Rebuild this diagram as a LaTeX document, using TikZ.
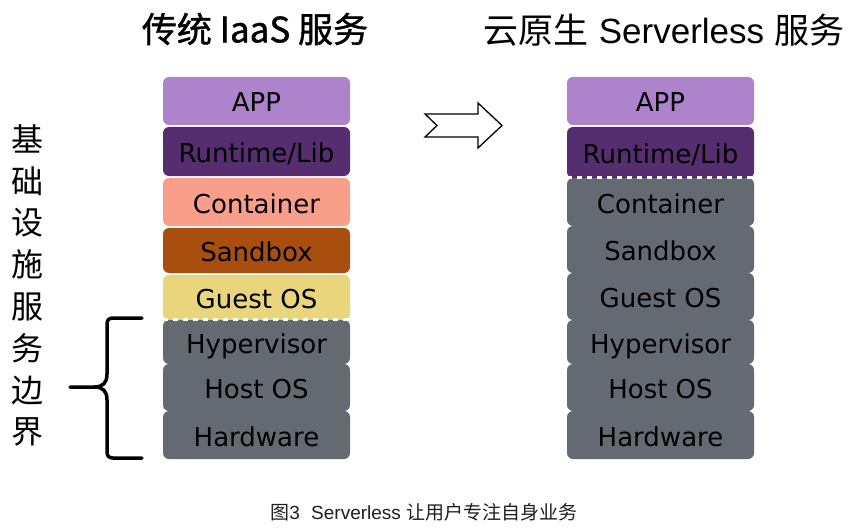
\documentclass[tikz,border=0pt]{standalone}
\usepackage{fontspec}
\newfontfamily\cjk{Noto Sans CJK SC}
\newfontfamily\cjkmed{Noto Sans CJK SC}[FakeBold=1.2]
\newfontfamily\dejavu{DejaVu Sans}
\newfontfamily\libsans{Liberation Sans}
\definecolor{cApp}{RGB}{173,131,203}
\definecolor{cRun}{RGB}{86,45,110}
\definecolor{cCont}{RGB}{249,158,137}
\definecolor{cSand}{RGB}{168,78,14}
\definecolor{cGuest}{RGB}{233,213,123}
\definecolor{cGray}{RGB}{100,106,114}
\definecolor{cCap}{RGB}{30,30,30}
\tikzset{
  layer/.style={minimum width=187pt, inner sep=0pt, rounded corners=6pt,
    font=\dejavu\fontsize{26}{26}\selectfont, text height=23pt, text depth=1pt, text=black},
  grayl/.style={layer, fill=cGray},
  dashsep/.style={draw=white, line width=2.8pt, dash pattern=on 5pt off 5pt},
  bracestyle/.style={line width=3.5pt, line cap=round, line join=round},
  vchar/.style={font=\cjk\fontsize{32}{32}\selectfont, inner sep=0pt},
}
\begin{document}
\begin{tikzpicture}[x=1pt,y=-1pt]
\useasboundingbox (0,0) rectangle (867,532);
% titles
\node[font=\cjkmed\fontsize{35}{35}\selectfont, inner sep=0pt] (tleft) at (255,29) {传统 IaaS 服务};
\node[font=\fontsize{35}{35}\selectfont, inner sep=0pt] (tright) at (664,30) {{\cjk 云原生} {\libsans Serverless} {\cjk 服务}};
% left stack
\node[layer, fill=cApp, minimum height=48pt] (lapp) at (256.5,101) {APP};
\node[layer, fill=cRun, minimum height=49pt] (lrun) at (256.5,151.5) {Runtime/Lib};
\node[layer, fill=cCont, minimum height=48pt] (lcont) at (256.5,202) {Container};
\node[layer, fill=cSand, minimum height=45pt] (lsand) at (256.5,250.5) {Sandbox};
\node[layer, fill=cGuest, minimum height=45pt] (lguest) at (256.5,297.5) {Guest OS};
\node[grayl, minimum height=44pt] (lhyp) at (256.5,342) {Hypervisor};
\node[grayl, minimum height=47pt] (lhost) at (256.5,387.5) {Host OS};
\node[grayl, minimum height=48pt] (lhw) at (256.5,435) {Hardware};
\draw[dashsep] (lhyp.north west) -- (lhyp.north east);
% right stack
\node[layer, fill=cApp, minimum height=48pt] (rapp) at (660.5,101) {APP};
\node[layer, fill=cRun, minimum height=51pt] (rrun) at (660.5,152.5) {Runtime/Lib};
\node[grayl, minimum height=48pt] (rcont) at (660.5,202) {Container};
\node[grayl, minimum height=47pt] (rsand) at (660.5,249.5) {Sandbox};
\node[grayl, minimum height=47pt] (rguest) at (660.5,296.5) {Guest OS};
\node[grayl, minimum height=44pt] (rhyp) at (660.5,342) {Hypervisor};
\node[grayl, minimum height=47pt] (rhost) at (660.5,387.5) {Host OS};
\node[grayl, minimum height=48pt] (rhw) at (660.5,435) {Hardware};
\draw[dashsep] (rcont.north west) -- (rcont.north east);
% arrow
\draw[line width=1.3pt, fill=white, line join=miter]
  (425,114) -- (478,114) -- (478,103) -- (502,125.5) -- (478,148) -- (478,137) -- (425,137) -- (437,125.5) -- cycle;
% vertical label
\foreach \c [count=\i from 0] in {基,础,设,施,服,务,边,界}{
  \node[vchar] (v\i) at (28,139+41.9*\i) {\c};
}
% brace
\coordinate (btop) at (142,318);
\coordinate (btip) at (70,387);
\coordinate (bbot) at (142,458);
\draw[bracestyle] (btop) -- (113,318) .. controls (109,318) and (107,320) .. (107,324)
  -- (107,374) .. controls (107,383) and (103,387) .. (94,387) -- (btip);
\draw[bracestyle] (94,387) .. controls (103,387) and (107,391) .. (107,400)
  -- (107,452) .. controls (107,456) and (109,458) .. (113,458) -- (bbot);
% caption
\node[font=\fontsize{19}{19}\selectfont, text=cCap, inner sep=0pt] (cap) at (424,512)
  {{\cjk 图}{\libsans 3}\hspace{0.6em}{\libsans Serverless} {\cjk 让用户专注自身业务}};
\end{tikzpicture}
\end{document}
